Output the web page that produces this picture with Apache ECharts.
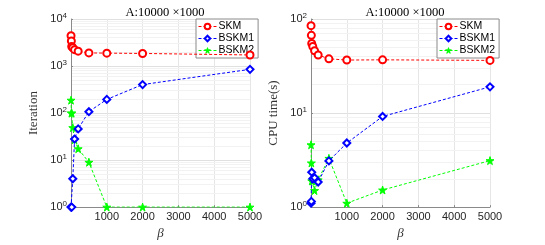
<!DOCTYPE html>
<html><head><meta charset="utf-8">
<script src="https://cdn.jsdelivr.net/npm/echarts@6/dist/echarts.min.js"></script>
<style>html,body{margin:0;padding:0;background:#fff}#c{width:545px;height:245px}</style>
</head><body><div id="c"></div>
<script>
const beta = [1, 10, 20, 50, 100, 200, 500, 1000, 2000, 5000];
const iterSKM = [4400, 3400, 2600, 2450, 2230, 2070, 1900, 1880, 1850, 1720];
const iterBSKM1 = [1, 1, 1, 4, 28, 46, 107, 195, 403, 850];
const iterBSKM2 = [188, 100, 100, 49, 27, 17.4, 9, 1, 1, 1];
const timeSKM = [85, 67, 55, 51, 46, 41.4, 37.7, 36.6, 36.8, 36.3];
const timeBSKM1 = [1.1, 1.15, 2.35, 2.0, 2.05, 1.85, 3.1, 4.8, 9.2, 19];
const timeBSKM2 = [4.6, 2.95, 1.9, 1.9, 1.5, 1.95, 3.3, 1.1, 1.52, 3.12];
const seriesNames = ['SKM', 'BSKM1', 'BSKM2'];
const xTicks = [1000, 2000, 3000, 4000, 5000];
const titleText = 'A:10000 \u00d71000';

const colors = ['#ff0000', '#0000ff', '#00ff00'];
const STAR = 'path://M50,0 L61,35 L98,35 L68,57 L79,91 L50,70 L21,91 L32,57 L2,35 L39,35 Z';
const symbols = ['emptyCircle', 'emptyDiamond', STAR];
const symSizes = [7, 7, 8];

function minorLines(maxExp) {
  const arr = [];
  for (let k = 0; k < maxExp; k++) for (let m = 2; m <= 9; m++) arr.push({ yAxis: m * Math.pow(10, k) });
  return arr;
}
function logLabel(v) {
  const e = Math.round(Math.log10(v));
  return '{b|10}{s|' + e + '}';
}
const grids = [
  { left: 71, top: 19, width: 179, height: 197 },
  { left: 311, top: 19, width: 179, height: 197 }
];
const axisColor = '#8a8a8a';
function xAxis(i) {
  return {
    type: 'value', gridIndex: i, min: 0, max: 5000, interval: 1000,
    name: '\u03b2', nameLocation: 'middle', nameGap: 17,
    nameTextStyle: { fontFamily: 'Liberation Serif', fontStyle: 'italic', fontSize: 13, color: '#333' },
    axisLine: { show: true, lineStyle: { color: axisColor, width: 1 } },
    axisTick: { show: true, inside: true, length: 2, lineStyle: { color: axisColor } },
    axisLabel: { fontFamily: 'Liberation Sans', fontSize: 11, color: '#262626', margin: 4,
      formatter: v => (xTicks.indexOf(v) >= 0 ? String(v) : '') },
    splitLine: { show: true, lineStyle: { color: '#e6e6e6', width: 1 } }
  };
}
function yAxis(i, max, name) {
  return {
    type: 'log', logBase: 10, gridIndex: i, min: 1, max: max,
    name: name, nameLocation: 'middle', nameGap: 31,
    nameTextStyle: { fontFamily: 'Liberation Serif', fontSize: 13, color: '#333' },
    axisLine: { show: true, lineStyle: { color: axisColor, width: 1 } },
    axisTick: { show: true, inside: true, length: 2, lineStyle: { color: axisColor } },
    axisLabel: { color: '#262626', margin: 4, formatter: logLabel,
      rich: {
        b: { fontFamily: 'Liberation Sans', fontSize: 11, color: '#262626' },
        s: { fontFamily: 'Liberation Sans', fontSize: 8, color: '#262626', padding: [0, 0, 7, 0] }
      } },
    splitLine: { show: true, lineStyle: { color: '#e0e0e0', width: 1 } }
  };
}
function mkSeries(gi, data, idx, minorMax) {
  const s = {
    name: seriesNames[idx], type: 'line', xAxisIndex: gi, yAxisIndex: gi,
    data: beta.map((b, j) => [b, data[j]]),
    symbol: symbols[idx], symbolSize: symSizes[idx],
    itemStyle: { color: colors[idx], borderColor: colors[idx], borderWidth: 1 },
    lineStyle: { color: colors[idx], width: 1, type: [3, 2] },
    z: 5 - idx, animation: false
  };
  if (minorMax) {
    s.markLine = { silent: true, symbol: 'none', label: { show: false },
      lineStyle: { color: '#f2f2f2', width: 1, type: 'solid' }, animation: false,
      data: minorLines(minorMax), z: 0 };
  }
  return s;
}
function legend(i, left) {
  return {
    data: seriesNames, left: left, top: 19, orient: 'vertical',
    backgroundColor: '#fff', borderColor: '#8a8a8a', borderWidth: 1,
    padding: [2, 4, 2, 2], itemGap: 1, itemWidth: 18, itemHeight: 7,
    itemStyle: { borderWidth: 1 },
    lineStyle: { width: 1 },
    textStyle: { fontFamily: 'Liberation Sans', fontSize: 10.5, color: '#000', padding: [0, 0, 0, -3] }
  };
}
const chart = echarts.init(document.getElementById('c'), null, { renderer: 'canvas' });
chart.setOption({
  animation: false,
  title: [
    { text: titleText, left: 160, top: 1, textAlign: 'center',
      textStyle: { fontFamily: 'Liberation Serif', fontWeight: 'normal', fontSize: 12.5, color: '#000' } },
    { text: titleText, left: 400, top: 1, textAlign: 'center',
      textStyle: { fontFamily: 'Liberation Serif', fontWeight: 'normal', fontSize: 12.5, color: '#000' } }
  ],
  grid: grids,
  xAxis: [xAxis(0), xAxis(1)],
  yAxis: [yAxis(0, 10000, 'Iteration'), yAxis(1, 100, 'CPU time(s)')],
  legend: [legend(0, 196), legend(1, 437)],
  series: [
    mkSeries(0, iterSKM, 0, 4), mkSeries(0, iterBSKM1, 1), mkSeries(0, iterBSKM2, 2),
    mkSeries(1, timeSKM, 0, 2), mkSeries(1, timeBSKM1, 1), mkSeries(1, timeBSKM2, 2)
  ]
});
</script></body></html>
